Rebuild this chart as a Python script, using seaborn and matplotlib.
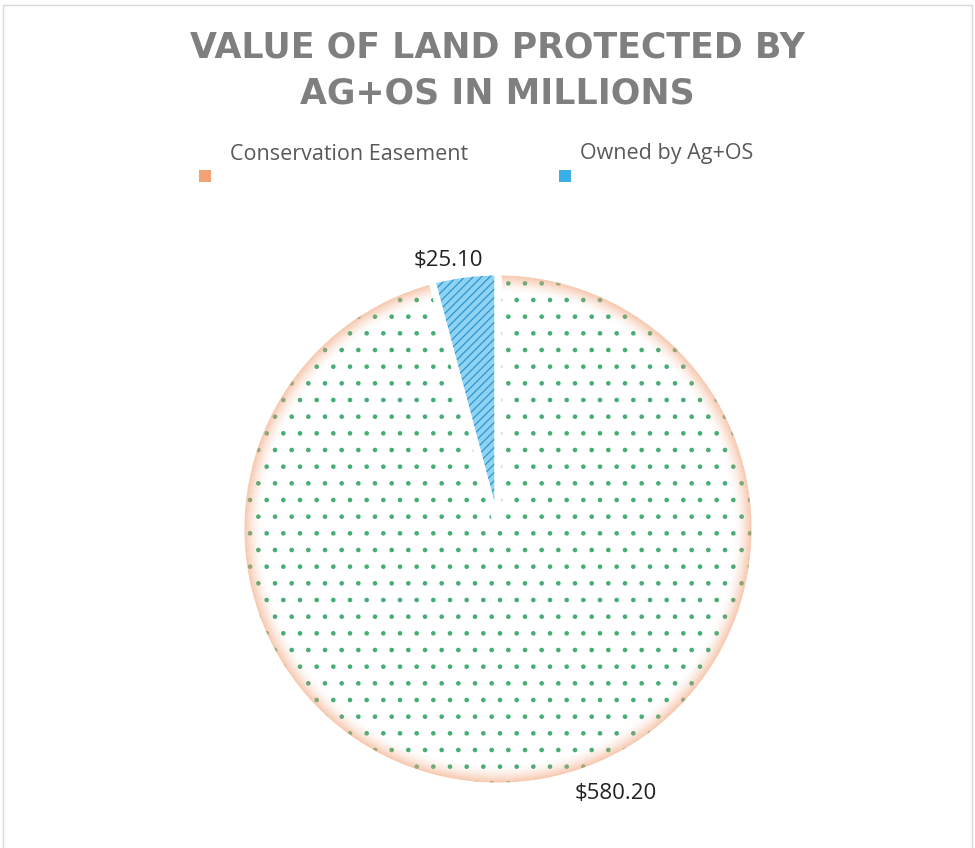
import matplotlib
matplotlib.use("Agg")
import matplotlib.pyplot as plt
import seaborn as sns
from matplotlib.patches import Rectangle

# ---- data ----
categories = ["Conservation Easement", "Owned by Ag+OS"]
values = [580.20, 25.10]
value_labels = ["$580.20", "$25.10"]
title_lines = ["VALUE OF LAND PROTECTED BY", "AG+OS IN MILLIONS"]

sns.set_theme(style="white")
plt.rcParams['font.family'] = ['Open Sans', 'DejaVu Sans']
plt.rcParams['hatch.linewidth'] = 0.9

W, H = 975, 848
fig = plt.figure(figsize=(W / 100, H / 100), dpi=100)
fig.patch.set_facecolor("white")

# pie axes: centre (498, 529) px, radius 257 px -> limits +-1.2
cx, cy, R = 498, 529, 257
half = R * 1.2
ax = fig.add_axes([(cx - half) / W, (H - cy - half) / H, 2 * half / W, 2 * half / H])

base_colors = ["white", "#8fd3f3"]
hatch_colors = ["#45ad75", "#2b96d3"]
hatches = [".", "////"]
legend_colors = ["#F2A277", "#3bb0e6"]

wedges, _ = ax.pie(values, startangle=90, counterclock=False,
                   colors=base_colors, wedgeprops=dict(linewidth=0))
for w, hc, h in zip(wedges, hatch_colors, hatches):
    w.set_hatch(h)
    w.set_edgecolor(hc)

# soft orange glow near the outer edge of the easement slice
n = 20
for i in range(n):
    r = 1 - i * 0.004
    a = 0.85 * (1 - i / n) ** 1.8
    ax.pie(values, startangle=90, counterclock=False, radius=r,
           colors=["#F2A277", "none"],
           wedgeprops=dict(width=0.0042, linewidth=0, alpha=a))

# white separating outline + labels
_, texts = ax.pie(values, startangle=90, counterclock=False,
                  colors=["none", "none"], labels=value_labels, labeldistance=1.1,
                  wedgeprops=dict(edgecolor="white", linewidth=5),
                  textprops=dict(fontsize=16, color="#222222"))
texts[0].set_position((0.46, -1.03))
texts[1].set_position((-0.195, 1.045))
for t in texts:
    t.set_ha("center")
    t.set_va("center")

ax.set_xlim(-1.2, 1.2)
ax.set_ylim(-1.2, 1.2)
ax.set_aspect("equal")
ax.axis("off")

# title
for txt, ypx in zip(title_lines, [47, 93]):
    fig.text(497 / W, 1 - ypx / H, txt, ha="center", va="center", fontsize=25,
             fontweight="bold", color="#7f7f7f", family=["DejaVu Sans"])

# legend (marker below-left of its text, as in the reference)
for lab, col, mx, tx in zip(categories, legend_colors, [199, 559], [230, 580]):
    fig.patches.append(Rectangle((mx / W, 1 - 182 / H), 12 / W, 12 / H,
                                 transform=fig.transFigure, facecolor=col,
                                 edgecolor="none"))
    fig.text(tx / W, 1 - 154 / H, lab, ha="left", va="center", fontsize=15.5,
             color="#595959")

# light chart-area border
fig.patches.append(Rectangle((3 / W, -0.01), 969 / W, 1 - 5 / H + 0.01,
                             transform=fig.transFigure, facecolor="none",
                             edgecolor="#d9d9d9", linewidth=1))

fig.savefig("out.png", dpi=100, facecolor="white")
